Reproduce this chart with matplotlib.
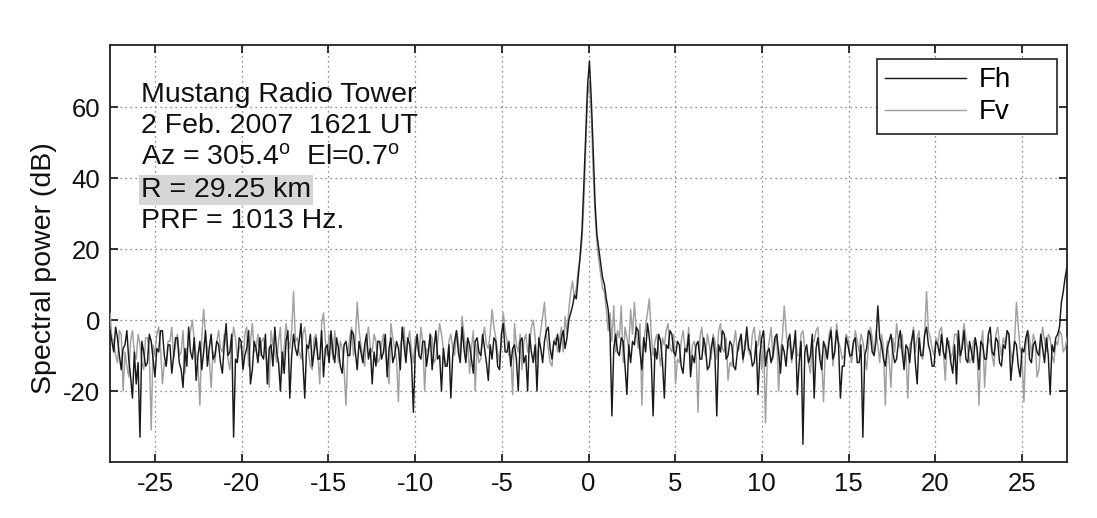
import numpy as np
import matplotlib
matplotlib.use("Agg")
import matplotlib.pyplot as plt

plt.rcParams['font.family'] = ['Liberation Sans', 'DejaVu Sans']
plt.rcParams['mathtext.fontset'] = 'custom'
plt.rcParams['mathtext.rm'] = 'Liberation Sans'
plt.rcParams['mathtext.it'] = 'Liberation Sans:italic'
plt.rcParams['axes.unicode_minus'] = False

# Doppler velocity axis (m/s): Nyquist interval
nyquist = 27.6
x_ticks = [-25, -20, -15, -10, -5, 0, 5, 10, 15, 20, 25]
y_ticks = [-20, 0, 20, 40, 60]

# Spectral power (dB), horizontal channel (black)
fh_db = [
    -3, -6, -9, -2, -5, -10, -14, -8, -7, -3, -11, -16, -22, -9, -18, -12, -33, -6, -9, -13,
    -12, -4, -6, -11, -16, -8, -9, -3, -3, -10, -13, -7, -7, -15, -10, -5, -5, -12, -14, -19,
    -8, -13, -2, -9, -11, -5, -17, -10, -6, -14, -9, -3, -13, -8, -4, -11, -10, -6, -7, -12,
    -15, -7, -1, -10, -9, -4, -33, -11, -12, -5, -6, -14, -10, -8, -3, -18, -14, -6, -8, -12,
    -5, -10, -11, -4, -18, -8, -7, -13, -2, -9, -12, -20, -9, -15, -6, -3, -22, -10, -4, -8,
    -10, -6, -1, -12, -22, -7, -8, -4, -13, -9, -5, -11, -11, -3, -16, -8, -7, -12, -3, -9,
    -12, -5, -8, -13, -15, -7, -6, -10, -10, -3, -4, -9, -14, -6, -9, -12, -7, -4, -11, -8,
    -18, -9, -13, -6, -6, -11, -9, -4, -16, -8, -5, -12, -10, -6, -8, -14, -2, -7, -12, -5,
    -7, -12, -26, -9, -4, -10, -11, -6, -6, -13, -9, -4, -14, -8, -3, -11, -10, -20, -8, -13,
    -13, -7, -22, -10, -6, -3, -9, -12, -2, -8, -12, -5, -7, -11, -15, -6, -5, -9, -10, -4,
    -8, -12, -17, -7, -11, -5, -6, -13, -14, -4, -1, -9, -9, -6, -13, -8, -7, -11, -20, -6,
    -5, -12, -10, -20, -4, -9, -12, -7, -20, -5, -8, -12, -6, -3, -2, -8, -11, -6, -7, -4,
    -9, -5, -3, -8, -5, 0, 2, 4, 7, 6, 12, 18, 25, 38, 52, 66, 73, 62, 48, 33,
    24, 20, 16, 12, 10, 6, 3, -4, -27, -8,
    -4, -9, -10, -5, -6, -13, -21, -7, -12, -6,
    -7, -2, -3, -9, -14, -5, -9, -1, -5, -11, -27, -8, -11, -4, -6, -12, -22, -7, -8, -3,
    -4, -9, -10, -6, -7, -13, -15, -8, -9, -4, -16, -10, -12, -7, -6, -11, -11, -5, -8, -14,
    -13, -8, -5, -10, -27, -7, -9, -3, -4, -11, -10, -6, -7, -13, -14, -9, -6, -4, -11, -8,
    -2, -8, -9, -13, -12, -6, -21, -10, -5, -3, -13, -9, -8, -12, -10, -5, -4, -9, -15, -7,
    -9, -13, -6, -4, -11, -8, -3, -21, -12, -6, -35, -9, -7, -12, -10, -4, -22, -8, -5, -11,
    -14, -6, -8, -11, -6, -3, -11, -9, -3, -7, -22, -13, -13, -5, -7, -10, -10, -6, -5, -12,
    -12, -7, -33, -10, -8, -3, -4, -9, -10, -6, 4, -5, -7, -11, -13, -8, -6, -4, -9, -12,
    -11, -6, -3, -9, -14, -7, -8, -12, -6, -3, -12, -18, -5, -10, -10, -4, -2, -7, -9, -13,
    -13, -6, -7, -10, -4, -9, -11, -5, -8, -12, -15, -7, -18, -3, -10, -8, -3, -11, -12, -6,
    -9, -12, -5, -8, -14, -6, -7, -11, -11, -4, -2, -9, -10, -5, -6, -12, -13, -7, -8, -3,
    -4, -17, -11, -6, -7, -13, -16, -8, -9, -5, -3, -11, -12, -7, -6, -9, -10, -4, -8, -12,
    -5, -10, -21, -7, -9, -5, -4, -2, 5, 8, 12, 15,
]

# Spectral power (dB), vertical channel (gray)
fv_db = [
    2, -5, -6, -10, -12, -3, -4, -20, -9, -13, -16, -6, -3, -9, -11, -4, -7, -12, -14, -5,
    -5, -9, -31, -7, -10, -4, -2, -8, -18, -12, -13, -6, -6, -2, -11, -7, -4, -10, -9, -3,
    -15, -8, -7, -3, 0, -6, -10, -13, -24, -5, 3, -4, -8, -11, -19, -9, -12, -6, -3, -8,
    -9, -4, -6, -11, -14, -7, -2, -5, -11, -8, -7, -12, -4, -2, -13, -6, -1, -9, -8, -4,
    -10, -6, -5, -9, -12, -19, -3, -7, -9, -12, -6, -2, -15, -8, -1, -5, -8, -3, 8, -6,
    -5, -9, -11, -4, -2, -7, -9, -13, -14, -5, -4, -10, -18, -1, 2, -6, -10, -4, -6, -11,
    -3, -8, -12, -6, -8, -14, -24, -9, -5, -2, -10, -6, 5, -3, -7, -11, -13, -5, -2, -8,
    -9, -4, -6, -12, -11, -7, -4, -9, -14, -18, -1, -5, -8, -11, -23, -7, -5, -2, -10, -6,
    -3, -9, -12, -5, -7, -10, -2, -6, -20, -8, -9, -4, -5, -12, -11, -6, -1, -4, -8, -12,
    -13, -6, -4, -8, -10, -3, -6, -11, 1, -4, -9, -6, -15, -8, -3, -20, -7, -12, -11, -5,
    -2, -7, -8, -4, 3, -2, -5, -9, -12, -6, 2, -3, -6, -10, -10, -21, -1, -7, -9, -4,
    -14, -6, -4, -9, -7, -2, 0, -5, -11, -7, -3, 1, 5, -4, -8, -12, -13, -6, -5, -9,
    -6, -2, -9, 1, -4, 3, 8, 11, 6, 9, 14, 17, 22, 33, 48, 63, 67, 58, 42, 30,
    22, 17, 13, 9, 8, 3, -3, 2, -6, 4,
    -9, -3, -5, 4, -12, -2, -5, -8, 3, -4,
    5, -3, -8, -1, -24, -6, -2, 2, 6, -4, -10, -6, -4, -9, -13, -5, -7, -3, -1, -8,
    -9, -4, -18, -11, -12, -6, -3, -8, -8, -2, -14, -7, -6, -10, -26, -5, -2, -8, -10, -4,
    -7, -11, -4, -6, -11, -3, -1, -8, -9, -5, -17, -12, -13, -7, -3, -9, -8, -4, -12, -6,
    -5, -9, -10, -4, -2, -8, -7, -3, -14, -6, -29, -10, -6, -2, -11, -7, -4, -20, -9, -5,
    4, -3, -8, -6, -12, -7, -5, -10, -10, -4, -3, -8, -9, -12, -15, -6, -6, -3, -2, -9,
    -11, -23, -7, -10, -4, -2, -13, -8, -1, -6, -8, -11, -10, -4, -5, -9, -12, -7, -3, -6,
    -9, -4, -6, -10, -14, -7, -2, -5, -10, -3, -7, -12, -4, -8, -24, -6, -11, -19, -5, -9,
    -1, -6, -8, -4, -12, -9, -22, -7, -6, -2, -9, -5, -3, -10, -11, -4, 8, -3, -5, -8,
    -10, -5, -7, -3, -2, -9, -17, -6, -6, -11, -9, -4, -4, -8, -12, -6, -1, -5, -8, -12,
    -11, -6, -5, -9, -24, -7, -3, -19, -9, -5, -6, -10, -13, -4, -2, -7, -10, -5, -7, -3,
    -4, -9, -12, -6, 5, -2, -8, -11, -23, -7, -3, -5, -10, -4, -6, -16, -14, -7, -2, -6,
    -9, -4, -5, -10, -12, -6, -7, -3, -4, -9, -8, -5,
]

# annotation text (left, baseline in data units)
info_lines = [
    'Mustang Radio Tower',
    '2 Feb. 2007  1621 UT',
    r'Az = 305.4$^{\rm o}$  El=0.7$^{\rm o}$',
    'R = 29.25 km',
    'PRF = 1013 Hz.',
]

vel_h = np.linspace(-nyquist, nyquist, len(fh_db))
vel_v = np.linspace(-nyquist, nyquist, len(fv_db))

W, H = 1097, 518
fig = plt.figure(figsize=(W / 100, H / 100), dpi=100)
ax = fig.add_axes([110 / W, 1 - 462 / H, (1067 - 110) / W, (462 - 45) / H])

ax.plot(vel_v, fv_db, color='#a0a0a0', lw=1.05, label='Fv', zorder=3)
ax.plot(vel_h, fh_db, color='#1a1a1a', lw=1.05, label='Fh', zorder=4)

ax.set_xlim(-nyquist, nyquist)
ax.set_ylim(-40, 77.5)
ax.set_xticks(x_ticks)
ax.set_yticks(y_ticks)
ax.grid(True, linestyle=(0, (1, 3)), color='#666666', lw=0.9)
ax.tick_params(direction='in', length=6, width=1.2, top=True, right=True,
               labelsize=18.5, colors='#111111')
ax.tick_params(axis='x', pad=7)
ax.tick_params(axis='y', pad=7)
for s in ax.spines.values():
    s.set_linewidth(1.3)
    s.set_color('#222222')

fig.text(44 / W, 1 - 268 / H, 'Spectral power (dB)', fontsize=20.5, rotation=90,
         ha='center', va='center', color='#111111')

handles, labels = ax.get_legend_handles_labels()
leg = ax.legend([handles[1], handles[0]], [labels[1], labels[0]],
                loc='upper left', bbox_to_anchor=(877 / W, 1 - 131 / H, 180 / W, 72 / H),
                bbox_transform=fig.transFigure, mode='expand',
                fontsize=20, frameon=True, fancybox=False,
                edgecolor='#222222', framealpha=1, handlelength=2.9,
                borderaxespad=0, labelspacing=0.22, handletextpad=0.45,
                borderpad=0.3)
leg.get_frame().set_linewidth(1.2)

text_baselines = [61.3, 52.6, 43.8, 34.8, 26.0]
for txt, yb in zip(info_lines, text_baselines):
    kw = {}
    if txt.startswith('R ='):
        kw['bbox'] = dict(facecolor='#d6d6d6', edgecolor='none', pad=1.5)
    ax.text(-25.8, yb, txt, fontsize=20.5, va='baseline', ha='left',
            color='#111111', zorder=6, **kw)

fig.savefig('out.png', dpi=100, facecolor='white')
